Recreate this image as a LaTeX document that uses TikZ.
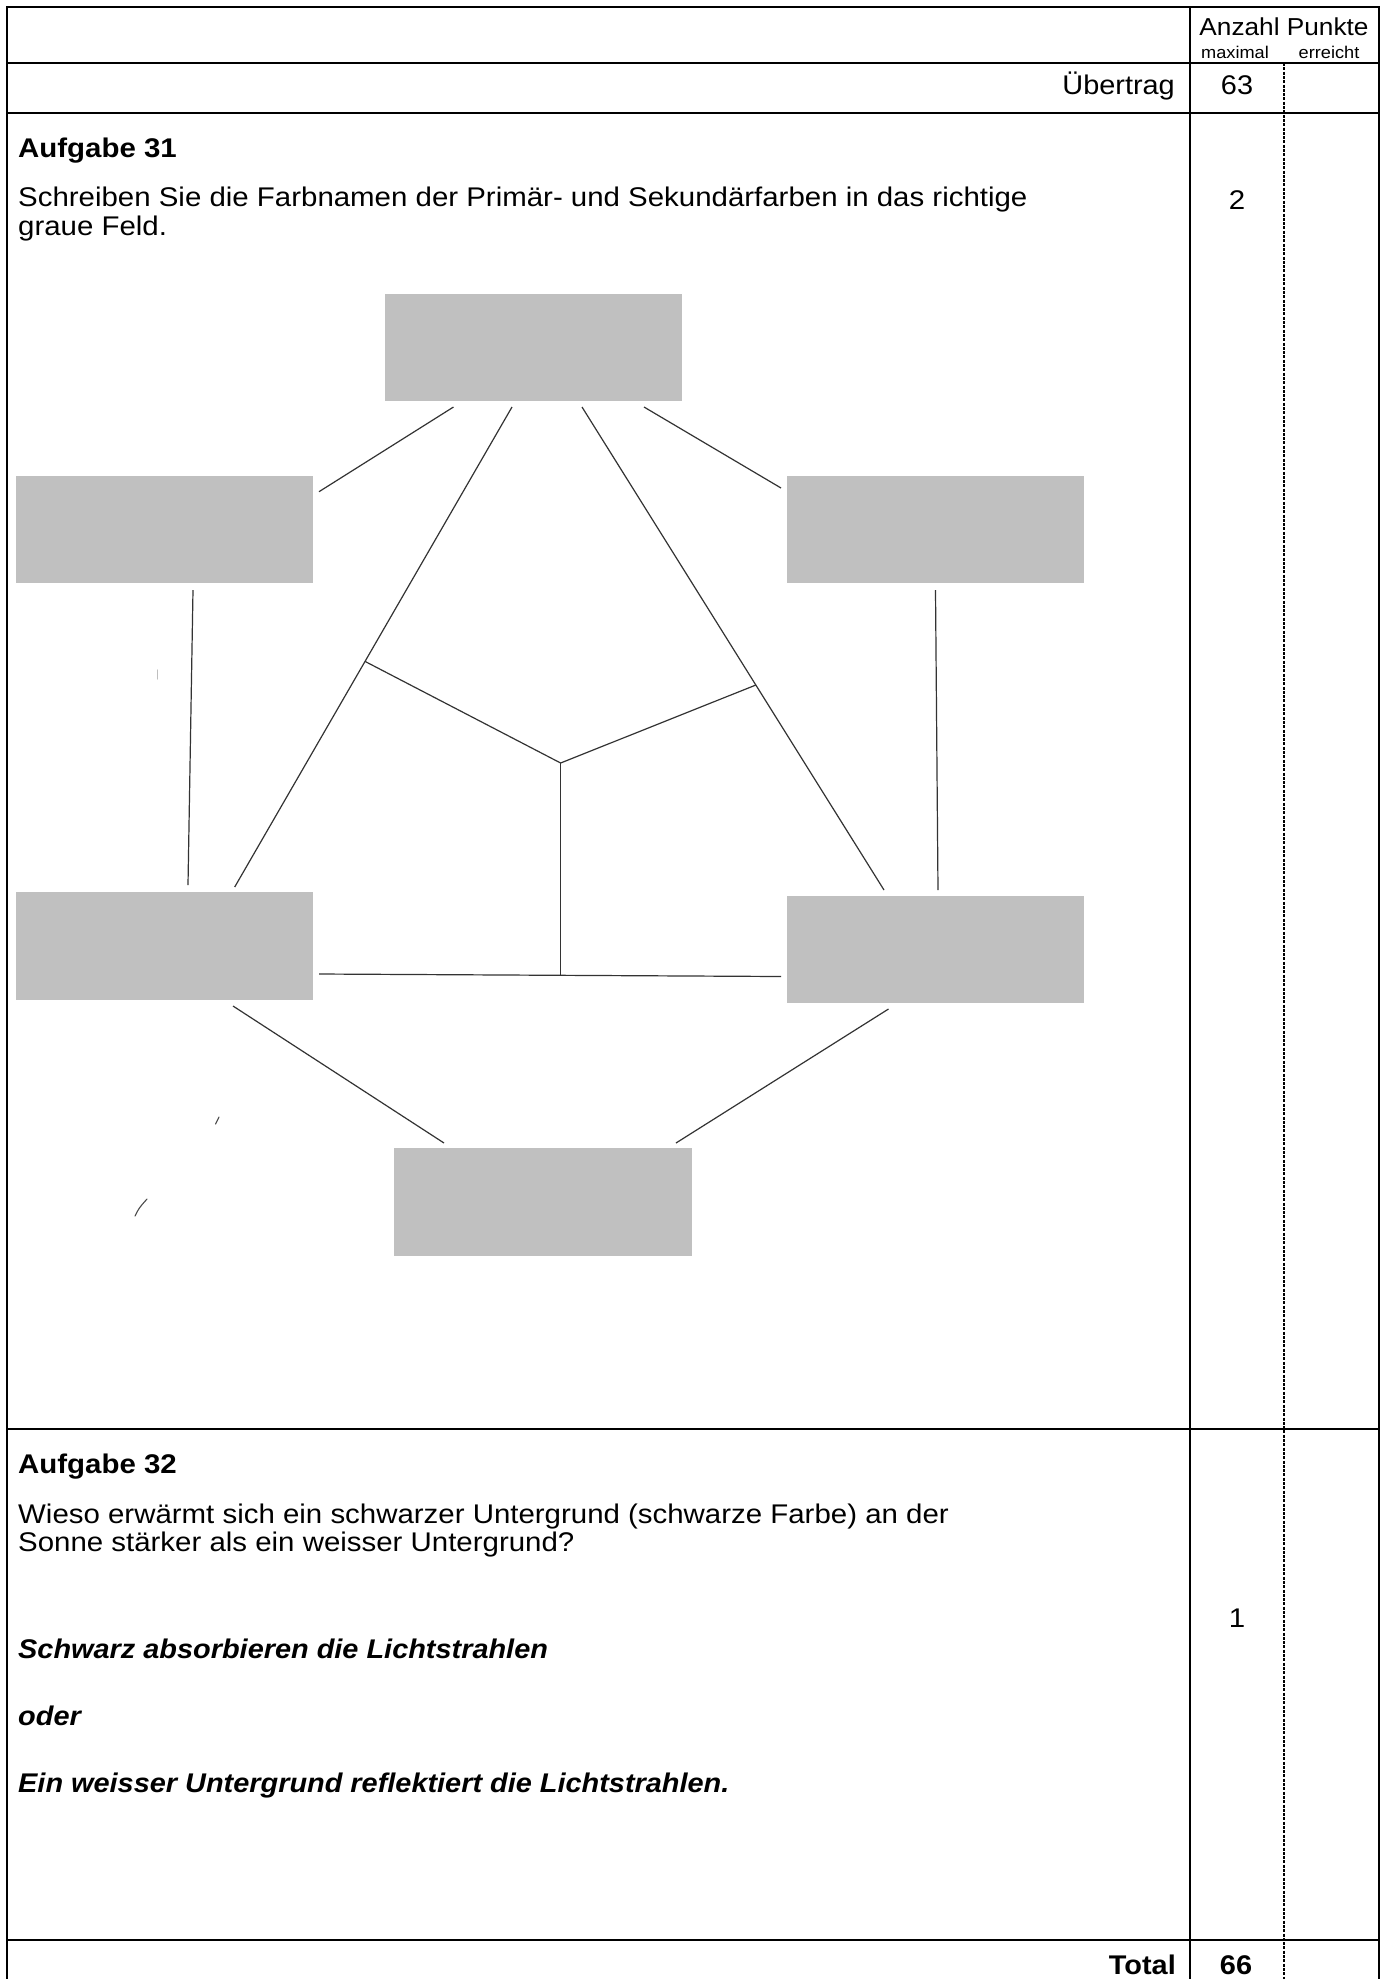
\documentclass[tikz,border=0pt]{standalone}
\usepackage{fontspec}
\setmainfont{Liberation Sans}
\usepackage{graphicx}
\usetikzlibrary{calc}
\definecolor{boxgray}{HTML}{C0C0C0}
\newcommand\sx[1]{\scalebox{1.09}[1]{#1}}
\newcommand\sxh[1]{\scalebox{1.07}[1]{#1}}
\begin{document}
\begin{tikzpicture}[x=1pt,y=-1pt,
  hline/.style={line width=2.3pt, black, line cap=rect},
  vline/.style={line width=1.8pt, black},
  dline/.style={line width=1.5pt, black, dash pattern=on 3pt off 1.3pt},
  graybox/.style={fill=boxgray, draw=none, anchor=north west, minimum width=297pt, minimum height=107pt, inner sep=0pt, outer sep=0pt},
  conn/.style={line width=1.2pt, black!80},
  speck/.style={line width=1.1pt, black!70, line cap=round},
  txt/.style={inner sep=0pt, anchor=base west, font=\fontsize{27}{27}\selectfont},
  txtc/.style={txt, anchor=base},
  txte/.style={txt, anchor=base east},
  head/.style={inner sep=0pt, anchor=base, font=\fontsize{24.5}{24.5}\selectfont},
  sub/.style={inner sep=0pt, anchor=base, font=\fontsize{17}{17}\selectfont}
]
\useasboundingbox (0,0) rectangle (1389,1979);
\fill[white] (0,0) rectangle (1389,1979);

% ---------- table frame ----------
\draw[hline] (7,7) -- (1379,7);
\draw[hline] (7,63) -- (1379,63);
\draw[hline] (7,113) -- (1379,113);
\draw[hline] (7,1429) -- (1379,1429);
\draw[hline] (7,1940) -- (1379,1940);
\draw[vline] (7,7) -- (7,1979);
\draw[vline] (1379,7) -- (1379,1979);
\draw[vline] (1190,7) -- (1190,1979);
\draw[dline] (1284,63) -- (1284,1979);

% ---------- header texts ----------
\node[head] (hAnz) at (1284,35) {\sxh{Anzahl Punkte}};
\node[sub] (hMax) at (1235,58) {\sxh{maximal}};
\node[sub] (hErr) at (1329,58) {\sxh{erreicht}};
\node[txte] (ueb) at (1175,94) {\sxh{Übertrag}};
\node[txtc] (v63) at (1237,94) {\sxh{63}};

% ---------- Aufgabe 31 ----------
\node[txt] (a31) at (18,157) {\sx{\bfseries Aufgabe 31}};
\node[txt] (a31l1) at (18,206) {\sx{Schreiben Sie die Farbnamen der Primär- und Sekundärfarben in das richtige}};
\node[txt] (a31l2) at (18,235) {\sx{graue Feld.}};
\node[txtc] (p2) at (1237,209) {\sx{2}};

% gray fields
\node[graybox] (T)  at (385,294) {};
\node[graybox] (LU) at (16,476) {};
\node[graybox] (RU) at (787,476) {};
\node[graybox, minimum height=108pt] (LL) at (16,892) {};
\node[graybox] (RL) at (787,896) {};
\node[graybox, minimum width=298pt, minimum height=108pt] (B) at (394,1148) {};

% connector end points
\coordinate (c1a) at ($(T.south west)+(68.5,6)$);
\coordinate (c1b) at ($(LU.north east)+(6,15.7)$);
\coordinate (c2a) at ($(T.south west)+(259,6)$);
\coordinate (c2b) at ($(RU.north west)+(-6,12)$);
\coordinate (c3a) at ($(T.south west)+(127,6)$);
\coordinate (c3b) at ($(LL.north west)+(218.7,-5)$);
\coordinate (c4a) at ($(T.south west)+(197,6)$);
\coordinate (c4b) at ($(RL.north west)+(97,-6)$);
\coordinate (c5a) at ($(LU.south west)+(177,7)$);
\coordinate (c5b) at ($(LL.north west)+(172,-7)$);
\coordinate (c6a) at ($(RU.south west)+(148.5,7)$);
\coordinate (c6b) at ($(RL.north west)+(151,-6)$);
\coordinate (hl)  at ($(LL.north east)+(6,82)$);
\coordinate (hr)  at ($(RL.north west)+(-6,80.5)$);
\coordinate (d1a) at ($(LL.south west)+(217,6)$);
\coordinate (d1b) at ($(B.north west)+(50,-5)$);
\coordinate (d2a) at ($(RL.south west)+(101.5,6)$);
\coordinate (d2b) at ($(B.north west)+(282,-5)$);
\coordinate (yl)   at ($(c3a)!0.53!(c3b)$);
\coordinate (yr)   at ($(c4a)!0.5756!(c4b)$);
\coordinate (ybot) at ($(hl)!0.523!(hr)$);
\coordinate (yc)   at ($(ybot)+(0,-212.3)$);

% connectors
\draw[conn] (c1a) -- (c1b);
\draw[conn] (c2a) -- (c2b);
\draw[conn] (c3a) -- (c3b);
\draw[conn] (c4a) -- (c4b);
\draw[conn] (c5a) -- (c5b);
\draw[conn] (c6a) -- (c6b);
\draw[conn] (hl) -- (hr);
\draw[conn] (yl) -- (yc) -- (yr);
\draw[conn] (yc) -- (ybot);
\draw[conn] (d1a) -- (d1b);
\draw[conn] (d2a) -- (d2b);

% small scan specks
\draw[speck] (135,1216) .. controls (139,1208) .. (147,1199);
\draw[speck] (215.5,1124) -- (219,1117);
\draw[speck, black!25] (157.5,670) -- (157.5,679);

% ---------- Aufgabe 32 ----------
\node[txt] (a32) at (18,1473) {\sx{\bfseries Aufgabe 32}};
\node[txt] (a32l1) at (18,1523) {\sx{Wieso erwärmt sich ein schwarzer Untergrund (schwarze Farbe) an der}};
\node[txt] (a32l2) at (18,1551) {\sx{Sonne stärker als ein weisser Untergrund?}};
\node[txt] (ans1) at (18,1658) {\sxh{\bfseries\itshape Schwarz absorbieren die Lichtstrahlen}};
\node[txt] (ans2) at (18,1725) {\sxh{\bfseries\itshape oder}};
\node[txt] (ans3) at (18,1792) {\sxh{\bfseries\itshape Ein weisser Untergrund reflektiert die Lichtstrahlen.}};
\node[txtc] (p1) at (1237,1627) {\sx{1}};

% ---------- Total ----------
\node[txte] (tot) at (1176,1974) {\sxh{\bfseries Total}};
\node[txtc] (v66) at (1236,1974) {\sxh{\bfseries 66}};
\end{tikzpicture}
\end{document}
